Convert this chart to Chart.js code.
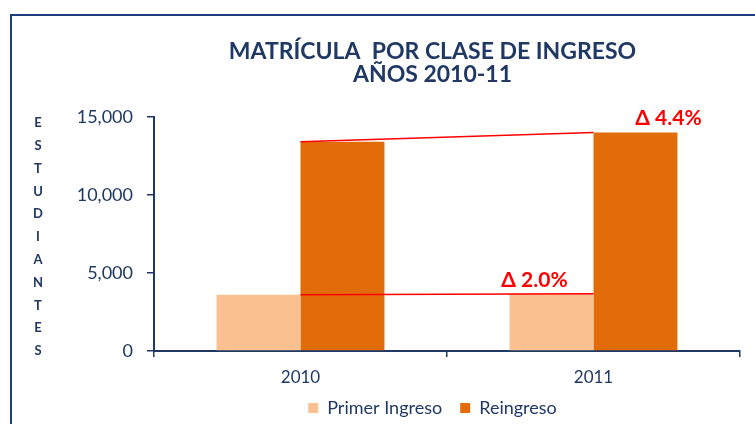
<!DOCTYPE html>
<html>
<head>
<meta charset="utf-8">
<script src="https://cdn.jsdelivr.net/npm/chart.js@4.4.0/dist/chart.umd.min.js"></script>
<style>
    html, body { margin: 0; padding: 0; background: #fff; }
    #wrap { position: relative; width: 755px; height: 424px; overflow: hidden; }
    #frame { position: absolute; left: 10px; top: 14px; width: 800px; height: 460px;
             border-top: 2px solid #1F3C7D; border-left: 2px solid #1F3C7D; }
    #chart { position: absolute; left: 0; top: 0; }
</style>
</head>
<body>
<div id="wrap">
    <div id="frame"></div>
    <canvas id="chart" width="755" height="424"></canvas>
</div>
<script>
const years = ['2010', '2011'];
const primerIngreso = [3605, 3677];
const reingreso = [13410, 14000];
const yTicks = [0, 5000, 10000, 15000];
const titleLines = ['MATRÍCULA  POR CLASE DE INGRESO', 'AÑOS 2010-11'];
const axisLabel = 'ESTUDIANTES';

const navy = '#1F3864';
const font = 'Lato, "Open Sans", sans-serif';

// red change lines + delta labels between the two years
const deltaPlugin = {
    id: 'deltaLines',
    afterDatasetsDraw(chart) {
        const ctx = chart.ctx;
        const x = chart.scales.x;
        const offsets = [{ dx: -17, dy: -13 }, { dx: 33, dy: -14 }];
        ctx.save();
        chart.data.datasets.forEach((ds, i) => {
            const bars = chart.getDatasetMeta(i).data;
            ctx.strokeStyle = '#FF0000';
            ctx.lineWidth = 1.5;
            ctx.beginPath();
            ctx.moveTo(x.getPixelForValue(0), bars[0].y);
            ctx.lineTo(x.getPixelForValue(1), bars[1].y);
            ctx.stroke();

            const pct = ((ds.data[1] - ds.data[0]) / ds.data[0] * 100).toFixed(1);
            ctx.fillStyle = '#FF0000';
            ctx.font = 'bold 21px ' + font;
            ctx.textAlign = 'center';
            ctx.textBaseline = 'middle';
            ctx.fillText('Δ ' + pct + '%', bars[1].x + offsets[i].dx, bars[1].y + offsets[i].dy);
        });
        ctx.restore();
    }
};

// stacked letters for the y axis name
const stackedLabelPlugin = {
    id: 'stackedLabel',
    afterDraw(chart) {
        const ctx = chart.ctx;
        const area = chart.chartArea;
        const letters = axisLabel.split('');
        const top = area.top + 6;
        const step = (area.bottom - top) / (letters.length - 1);
        ctx.save();
        ctx.fillStyle = navy;
        ctx.font = 'bold 13px ' + font;
        ctx.textAlign = 'center';
        ctx.textBaseline = 'middle';
        letters.forEach((l, i) => ctx.fillText(l, 38, top + i * step));
        ctx.restore();
    }
};

Chart.defaults.font.family = font;

new Chart(document.getElementById('chart'), {
    type: 'bar',
    data: {
        labels: years,
        datasets: [
            { label: 'Primer Ingreso', data: primerIngreso, backgroundColor: '#FAC090' },
            { label: 'Reingreso', data: reingreso, backgroundColor: '#E36C0A' }
        ]
    },
    options: {
        responsive: false,
        animation: false,
        devicePixelRatio: 1,
        layout: { padding: { left: 125, right: 15, top: 0, bottom: -3 } },
        datasets: { bar: { categoryPercentage: 0.573, barPercentage: 1 } },
        plugins: {
            title: {
                display: true,
                text: titleLines,
                color: navy,
                font: { size: 23, weight: 'bold', lineHeight: 1.0 },
                padding: { top: 40, bottom: 31 }
            },
            legend: {
                position: 'bottom',
                labels: { color: navy, boxWidth: 10, boxHeight: 10, font: { size: 18 }, padding: 18 }
            },
            tooltip: { enabled: false }
        },
        scales: {
            x: {
                afterFit: scale => {
                    scale.height = 30;
                    scale._computeLabelArea = () => undefined;
                },
                grid: { offset: true, drawOnChartArea: false, tickLength: 6, color: navy, lineWidth: 1.5 },
                border: { color: navy, width: 2 },
                ticks: { color: navy, font: { size: 17 }, padding: 10 }
            },
            y: {
                min: 0,
                max: 15000,
                afterBuildTicks: scale => { scale.ticks = yTicks.map(v => ({ value: v })); },
                afterFit: scale => {
                    // narrow box so title/legend centre like the original; let labels spill left
                    scale.width = 29;
                    scale._computeLabelArea = () => undefined;
                },
                grid: { drawOnChartArea: false, tickLength: 7, color: navy, lineWidth: 1.5 },
                border: { color: navy, width: 2 },
                ticks: {
                    color: navy,
                    font: { size: 18 },
                    padding: 14,
                    callback: v => v.toLocaleString('en-US')
                }
            }
        }
    },
    plugins: [deltaPlugin, stackedLabelPlugin]
});
</script>
</body>
</html>
